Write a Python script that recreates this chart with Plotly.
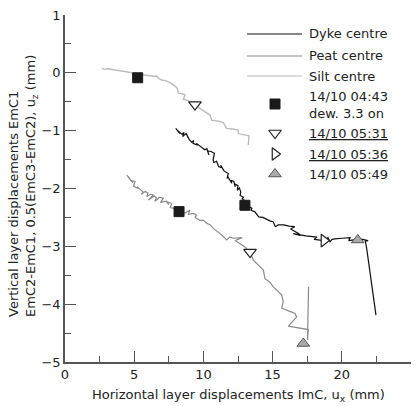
import plotly.graph_objects as go

# Layer displacement paths (horizontal ux, vertical uz), mm
dyke_x = [8.0, 8.3, 8.15, 8.45, 8.6, 8.5, 8.75, 8.9, 8.8, 9.0, 9.15, 9.3, 9.25, 9.6, 9.5,
          9.75, 9.9, 10.1, 10.25, 10.4, 10.3, 10.55, 10.8, 10.7, 10.75, 10.95, 11.1, 11.3,
          11.25, 11.5, 11.8, 11.7, 11.75, 11.9, 12.05, 12.0, 12.2, 12.3, 12.25, 12.5, 12.45,
          12.6, 12.7, 12.65, 12.9, 12.8, 12.95, 13.0, 13.2, 13.1, 13.3, 13.5, 13.45, 13.7,
          14.0, 14.3, 14.5, 14.8, 15.05, 15.2, 15.4, 15.8, 16.2, 16.6, 16.3, 16.9, 17.0,
          16.5, 17.4, 18.2, 18.0, 18.7, 19.0, 19.15, 19.3, 19.5, 20.0, 20.6, 20.5, 21.1,
          21.5, 21.9, 21.7, 21.8, 22.47]
dyke_y = [-0.96, -1.05, -1.0, -1.06, -1.03, -1.10, -1.05, -1.12, -1.07, -1.16, -1.2, -1.17,
          -1.22, -1.25, -1.22, -1.27, -1.3, -1.33, -1.31, -1.42, -1.35, -1.36, -1.39, -1.5,
          -1.55, -1.53, -1.62, -1.64, -1.60, -1.7, -1.74, -1.83, -1.79, -1.85, -1.91, -1.86,
          -1.88, -1.97, -1.92, -1.95, -2.03, -1.99, -2.06, -2.12, -2.15, -2.18, -2.20, -2.24,
          -2.3, -2.26, -2.31, -2.34, -2.38, -2.40, -2.49, -2.50, -2.53, -2.56, -2.58, -2.66,
          -2.63, -2.63, -2.65, -2.66, -2.70, -2.78, -2.81, -2.78, -2.82, -2.84, -2.88, -2.90,
          -2.85, -2.92, -2.88, -2.87, -2.86, -2.85, -2.9, -2.88, -2.88, -2.90, -2.91, -3.04,
          -4.19]

peat_x = [4.46, 4.7, 4.55, 4.9, 4.75, 5.06, 4.95, 5.3, 5.2, 5.45, 5.66, 5.5, 5.8, 6.0, 5.9,
          6.2, 6.38, 6.02, 6.45, 6.6, 6.5, 6.85, 7.1, 6.9, 7.3, 7.5, 7.35, 7.71, 7.6, 8.0,
          8.24, 8.5, 8.4, 8.7, 9.03, 8.9, 9.3, 9.51, 9.4, 9.75, 10.0, 10.24, 10.5, 10.72,
          10.9, 11.2, 11.4, 11.68, 11.9, 12.16, 12.8, 12.3, 13.0, 13.37, 13.61, 14.0, 14.33,
          14.45, 14.8, 15.05, 15.4, 15.66, 15.77, 15.66, 16.2, 16.62, 16.74, 16.14, 17.58,
          17.52, 17.6]
peat_y = [-1.77, -1.83, -1.80, -1.90, -1.86, -1.88, -1.96, -2.0, -1.97, -2.02, -2.06, -2.10,
          -2.05, -2.08, -2.14, -2.10, -2.11, -2.20, -2.13, -2.16, -2.22, -2.15, -2.17, -2.24,
          -2.22, -2.28, -2.23, -2.26, -2.33, -2.35, -2.40, -2.36, -2.41, -2.42, -2.37, -2.45,
          -2.43, -2.46, -2.50, -2.55, -2.55, -2.60, -2.63, -2.69, -2.72, -2.78, -2.82, -2.89,
          -2.84, -2.86, -2.85, -2.90, -3.01, -3.11, -3.24, -3.33, -3.41, -3.56, -3.62, -3.70,
          -3.78, -3.84, -3.96, -4.07, -4.12, -4.16, -4.22, -4.38, -4.44, -4.62, -3.70]

silt_x = [2.65, 2.9, 3.1, 3.4, 3.61, 3.9, 4.2, 4.5, 4.82, 5.0, 5.25, 5.5, 5.78, 6.1, 6.4,
          6.63, 6.8, 6.98, 7.3, 7.59, 7.8, 7.95, 8.1, 8.19, 8.4, 8.67, 8.55, 8.9, 9.2, 9.39,
          9.6, 9.88, 10.2, 10.48, 10.6, 11.0, 11.44, 11.68, 12.1, 12.52, 12.52, 12.9, 13.29,
          13.25]
silt_y = [0.078, 0.06, 0.07, 0.05, 0.048, 0.04, 0.03, 0.015, 0.002, -0.02, -0.05, -0.03,
          -0.04, -0.05, -0.06, -0.055, -0.1, -0.125, -0.14, -0.17, -0.2, -0.23, -0.26, -0.35,
          -0.36, -0.38, -0.46, -0.48, -0.53, -0.56, -0.6, -0.64, -0.68, -0.73, -0.82, -0.83,
          -0.86, -0.96, -0.97, -0.99, -1.05, -1.07, -1.09, -1.25]

# Event markers (silt, peat, dyke positions at each moment)
t0443_x = [5.25, 8.24, 13.0]
t0443_y = [-0.085, -2.40, -2.29]
t0531_x = [9.39, 13.37]
t0531_y = [-0.55, -3.10]
t0536_x = [18.71]
t0536_y = [-2.90]
t0549_x = [21.15, 17.22]
t0549_y = [-2.89, -4.68]

series_names = ["Dyke centre", "Peat centre", "Silt centre"]
event_labels = ["14/10 04:43<br>dew. 3.3 on", "<u>14/10 05:31</u>",
                "<u>14/10 05:36</u>", "14/10 05:49"]

FONT = "DejaVu Sans"
DYKE_C, PEAT_C, SILT_C = "#111111", "#8a8a8a", "#bcbcbc"

fig = go.Figure()
for xs, ys, col, w in [(silt_x, silt_y, SILT_C, 1.4), (peat_x, peat_y, PEAT_C, 1.2),
                       (dyke_x, dyke_y, DYKE_C, 1.2)]:
    fig.add_trace(go.Scatter(x=xs, y=ys, mode="lines", line=dict(color=col, width=w),
                             showlegend=False, hoverinfo="skip"))

marker_styles = [
    dict(symbol="square", size=10, color="#1a1a1a", line=dict(color="#1a1a1a", width=1)),
    dict(symbol="triangle-down", size=11, color="white", line=dict(color="#222", width=1.2)),
    dict(symbol="triangle-right", size=11, color="white", line=dict(color="#222", width=1.2)),
    dict(symbol="triangle-up", size=11, color="#aaaaaa", line=dict(color="#555", width=1)),
]
for (xs, ys), ms in zip([(t0443_x, t0443_y), (t0531_x, t0531_y), (t0536_x, t0536_y),
                         (t0549_x, t0549_y)], marker_styles):
    fig.add_trace(go.Scatter(x=xs, y=ys, mode="markers", marker=ms, showlegend=False,
                             hoverinfo="skip"))

# Hand-built key, laid out in paper units on an overlay axis
L, R, T, B = 65, 7, 15, 44
W, H = 418 - L - R, 406 - T - B
def px(x):
    return (x - L) / W
def py(y):
    return (406 - B - y) / H

shapes = []
annotations = []
for name, col, yy in zip(series_names, [DYKE_C, PEAT_C, SILT_C], [34, 56, 76]):
    shapes.append(dict(type="line", xref="paper", yref="paper", x0=px(247), x1=px(302),
                       y0=py(yy), y1=py(yy), line=dict(color=col, width=1.2)))
    annotations.append(dict(text=name, xref="paper", yref="paper", x=px(307), y=py(yy),
                            xanchor="left", yanchor="middle", showarrow=False,
                            font=dict(family=FONT, size=13, color="#222")))

key_y = [104, 133, 154, 174]
text_y = [105, 133, 154, 174]
for lab, ms, ky, ty in zip(event_labels, marker_styles, key_y, text_y):
    fig.add_trace(go.Scatter(x=[px(275)], y=[py(ky)], xaxis="x2", yaxis="y2", mode="markers",
                             marker=ms, showlegend=False, hoverinfo="skip"))
    annotations.append(dict(text=lab, xref="paper", yref="paper", x=px(307), y=py(ty),
                            xanchor="left", yanchor="middle", align="left", showarrow=False,
                            font=dict(family=FONT, size=13, color="#222")))

# Axis titles
annotations.append(dict(text="Horizontal layer displacements ImC, u<sub>x</sub> (mm)",
                        xref="paper", yref="paper", x=px(238), y=py(395),
                        xanchor="center", yanchor="middle", showarrow=False,
                        font=dict(family=FONT, size=13, color="#222")))
annotations.append(dict(text="Vertical layer displacements EmC1<br>"
                             "EmC2-EmC1, 0.5(EmC3-EmC2), u<sub>z</sub> (mm)",
                        xref="paper", yref="paper", x=px(23), y=py(319),
                        xanchor="center", yanchor="bottom", align="left", textangle=-90,
                        showarrow=False, font=dict(family=FONT, size=13, color="#222")))

axis_common = dict(showgrid=False, zeroline=False, showline=True, linecolor="#555",
                   linewidth=1.5, ticks="inside", ticklen=11, tickwidth=1.2, tickcolor="#555",
                   tickfont=dict(family=FONT, size=13, color="#222"), mirror=False)

fig.update_layout(
    width=418, height=406,
    margin=dict(l=L, r=R, t=T, b=B),
    paper_bgcolor="white", plot_bgcolor="white",
    showlegend=False,
    xaxis=dict(range=[0, 25], dtick=5, tick0=0,
               minor=dict(dtick=2.5, ticklen=6, tickcolor="#555", ticks="inside"),
               **axis_common),
    yaxis=dict(range=[-5, 1], dtick=1, tick0=0,
               minor=dict(dtick=0.5, ticklen=6, tickcolor="#555", ticks="inside"),
               **axis_common),
    xaxis2=dict(range=[0, 1], overlaying="x", visible=False, fixedrange=True),
    yaxis2=dict(range=[0, 1], overlaying="y", visible=False, fixedrange=True),
    shapes=shapes,
    annotations=annotations,
)

fig.write_html("out.html")
